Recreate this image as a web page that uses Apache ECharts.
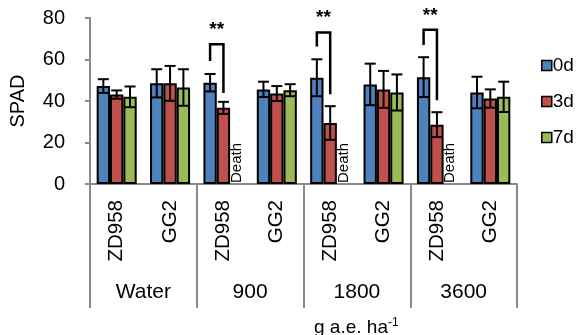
<!DOCTYPE html>
<html><head><meta charset="utf-8">
<script src="https://cdn.jsdelivr.net/npm/echarts@6/dist/echarts.min.js"></script>
<style>html,body{margin:0;padding:0;background:#fff}#c{width:584px;height:335px}</style>
</head><body><div id="c"></div>
<script>
const groups = ['Water', '900', '1800', '3600'];
const cultivars = ['ZD958', 'GG2', 'ZD958', 'GG2', 'ZD958', 'GG2', 'ZD958', 'GG2'];
const seriesNames = ['0d', '3d', '7d'];
const d0 = [47.2, 48.5, 48.8, 45.6, 51.2, 48.0, 51.5, 44.1];
const d0err = [3.3, 6.8, 4.2, 3.7, 8.9, 10.0, 9.6, 7.6];
const d3 = [43.1, 48.5, 36.7, 43.6, 29.4, 45.6, 28.6, 41.2];
const d3err = [2.0, 8.4, 2.9, 3.6, 8.1, 8.9, 6.0, 4.4];
const d7 = [42.0, 46.5, 0, 45.2, 0, 44.1, 0, 42.0];
const d7err = [5.0, 8.8, null, 2.9, null, 8.7, null, 7.3];
const dead7 = [false, false, true, false, true, false, true, false];
// significance brackets: category index, left end, right end, top (SPAD units)
const sigCat = [2, 4, 6];
const sigLeft = [59.3, 66.3, 67.0];
const sigRight = [43.9, 43.2, 40.4];
const sigTop = [67.3, 73.0, 74.3];
const sigText = ['**', '**', '**'];
const yTicks = [0, 20, 40, 60, 80];

const colors = ['#4F81BD', '#C0504D', '#9BBB59'];
const FONT = 'Liberation Sans, Arial, sans-serif';
const GAP = 0.25;

function barOffset(api, k) {
  const band = api.size([1, 0])[0];
  const bw = band * (1 - GAP) / 3;
  return (k - 1) * bw;
}

function errSeries(k, vals, errs) {
  const data = [];
  vals.forEach((v, i) => { if (errs[i] != null) data.push([i, v, errs[i]]); });
  return {
    type: 'custom', name: 'err' + k, xAxisIndex: 0, yAxisIndex: 0, z: 5,
    encode: { x: 0, y: 1 },
    data: data,
    renderItem: function (params, api) {
      const cat = api.value(0), v = api.value(1), e = api.value(2);
      const cx = api.coord([cat, 0])[0] + barOffset(api, k);
      const yt = api.coord([cat, v + e])[1];
      const yb = api.coord([cat, v - e])[1];
      const h = 5.5;
      const st = { stroke: '#000', lineWidth: 2 };
      return { type: 'group', children: [
        { type: 'line', shape: { x1: cx, y1: yt, x2: cx, y2: yb }, style: st },
        { type: 'line', shape: { x1: cx - h, y1: yt, x2: cx + h, y2: yt }, style: st },
        { type: 'line', shape: { x1: cx - h, y1: yb, x2: cx + h, y2: yb }, style: st }
      ] };
    }
  };
}

const sigData = sigCat.map((c, i) => [c, sigLeft[i], sigRight[i], sigTop[i]]);

const barSeries = [d0, d3, d7].map((vals, k) => ({
  type: 'bar', name: seriesNames[k], xAxisIndex: 0, yAxisIndex: 0,
  barGap: '0%', barCategoryGap: (GAP * 100) + '%',
  itemStyle: { color: colors[k], borderColor: '#000', borderWidth: 2 },
  data: vals.map((v, i) => (k === 2 && dead7[i]) ? {
    value: v,
    itemStyle: { borderWidth: 0 },
    label: { show: true, formatter: 'Death', position: 'insideBottom', rotate: 90,
      align: 'left', verticalAlign: 'middle', distance: 1,
      fontFamily: FONT, fontSize: 15, color: '#000' }
  } : v)
}));

const option = {
  animation: false,
  backgroundColor: '#fff',
  textStyle: { fontFamily: FONT },
  grid: { left: 90, right: 67, top: 18, bottom: 151, containLabel: false },
  legend: {
    data: seriesNames, orient: 'vertical', left: 536, top: 49,
    icon: 'rect', itemWidth: 10, itemHeight: 10, itemGap: 13,
    itemStyle: { borderColor: '#000', borderWidth: 1.5 },
    textStyle: { fontFamily: FONT, fontSize: 19, color: '#000', lineHeight: 23, padding: [0, 0, 0, -4] }
  },
  title: {
    text: 'g a.e. ha{s|-1}', left: 309, top: 312,
    textStyle: { fontFamily: FONT, fontSize: 19, fontWeight: 'normal', color: '#000',
      rich: { s: { fontFamily: FONT, fontSize: 12, verticalAlign: 'top', padding: [0, 0, 9, 0], color: '#000' } } }
  },
  xAxis: [
    { type: 'category', data: cultivars, position: 'bottom',
      axisLine: { show: true, lineStyle: { color: '#8a8a8a', width: 2 } },
      axisTick: { show: false },
      axisLabel: { rotate: 90, margin: 16, fontSize: 20.5, color: '#000', fontFamily: FONT, interval: 0 } },
    { type: 'category', data: groups, position: 'bottom', gridIndex: 0,
      axisLine: { show: false },
      axisTick: { show: true, length: 124, interval: 0, lineStyle: { color: '#8a8a8a', width: 2 } },
      axisLabel: { margin: 98, fontSize: 21, color: '#000', fontFamily: FONT, interval: 0 } }
  ],
  yAxis: {
    type: 'value', min: 0, max: 80, interval: 20,
    name: 'SPAD', nameLocation: 'middle', nameGap: 62, nameRotate: 90,
    nameTextStyle: { fontFamily: FONT, fontSize: 20, color: '#000' },
    axisLine: { show: true, lineStyle: { color: '#8a8a8a', width: 2 } },
    axisTick: { show: true, length: 5, lineStyle: { color: '#8a8a8a', width: 2 } },
    splitLine: { show: false },
    axisLabel: { fontSize: 20, color: '#000', margin: 25, fontFamily: FONT,
      formatter: v => yTicks.includes(v) ? String(v) : '' }
  },
  series: barSeries.concat([
    errSeries(0, d0, d0err), errSeries(1, d3, d3err), errSeries(2, d7, d7err),
    {
      type: 'custom', name: 'sig', xAxisIndex: 0, yAxisIndex: 0, z: 6,
      encode: { x: 0, y: 3 },
      data: sigData,
      renderItem: function (params, api) {
        const cat = api.value(0);
        const xl = api.coord([cat, 0])[0] + barOffset(api, 0);
        const xr = api.coord([cat, 0])[0] + barOffset(api, 1);
        const yl = api.coord([cat, api.value(1)])[1];
        const yr = api.coord([cat, api.value(2)])[1];
        const yt = api.coord([cat, api.value(3)])[1];
        return { type: 'group', children: [
          { type: 'polyline', shape: { points: [[xl, yl], [xl, yt], [xr, yt], [xr, yr]] },
            style: { stroke: '#000', lineWidth: 2.5, fill: null } },
          { type: 'text', x: (xl + xr) / 2, y: yt - 5,
            style: { text: sigText[params.dataIndex], fontFamily: FONT, fontSize: 19, fontWeight: 'bold',
              fill: '#000', align: 'center', verticalAlign: 'bottom' } }
        ] };
      }
    }
  ])
};
echarts.init(document.getElementById('c'), null, { renderer: 'canvas' }).setOption(option);
</script></body></html>
